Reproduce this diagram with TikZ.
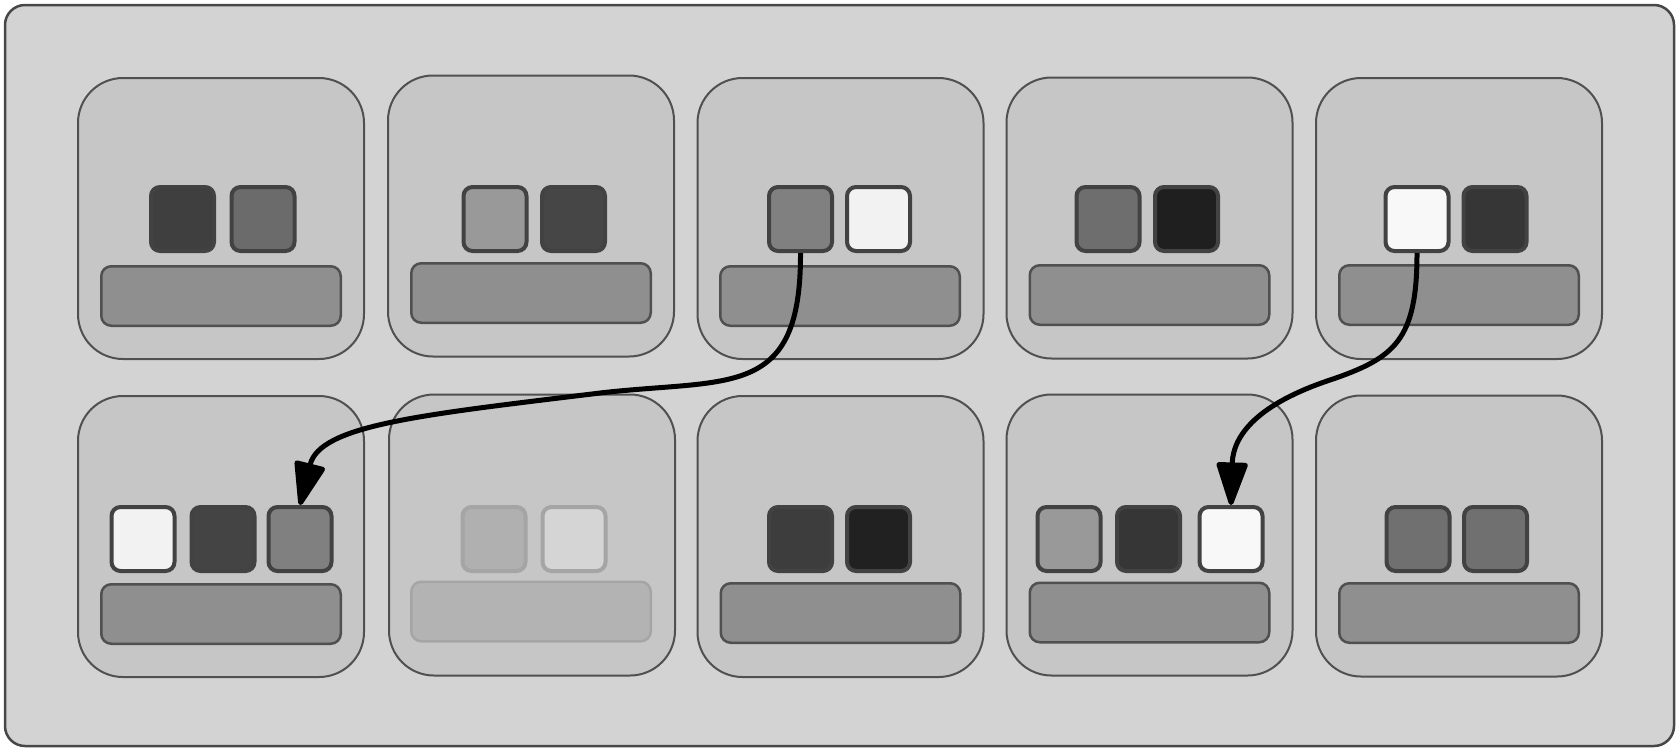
\documentclass[tikz,border=0pt]{standalone}
\usetikzlibrary{arrows.meta}
\definecolor{bgc}{HTML}{D3D3D3}
\definecolor{bgline}{HTML}{474747}
\definecolor{cardfill}{HTML}{C6C6C6}
\definecolor{cardline}{HTML}{505050}
\definecolor{barfill}{HTML}{8F8F8F}
\definecolor{barline}{HTML}{505050}
\definecolor{sqline}{HTML}{424242}
\definecolor{fadeline}{HTML}{A5A5A5}
\definecolor{fadebar}{HTML}{B3B3B3}
\definecolor{k3f}{HTML}{3F3F3F}
\definecolor{k6b}{HTML}{6B6B6B}
\definecolor{k99}{HTML}{999999}
\definecolor{k46}{HTML}{464646}
\definecolor{k80}{HTML}{808080}
\definecolor{kf2}{HTML}{F2F2F2}
\definecolor{k6e}{HTML}{6E6E6E}
\definecolor{k1f}{HTML}{1F1F1F}
\definecolor{kf8}{HTML}{F8F8F8}
\definecolor{k36}{HTML}{363636}
\definecolor{k44}{HTML}{444444}
\definecolor{k3d}{HTML}{3D3D3D}
\definecolor{k21}{HTML}{212121}
\definecolor{k70}{HTML}{707070}
\definecolor{kb0}{HTML}{B0B0B0}
\definecolor{kd5}{HTML}{D5D5D5}
\begin{document}
\begin{tikzpicture}[x=1pt,y=-1pt,
  outerbox/.style={draw=bgline,line width=2.5pt,fill=bgc,rounded corners=20pt},
  card/.style={draw=cardline,line width=2pt,fill=cardfill,rounded corners=45pt,
    minimum width=286pt,minimum height=281pt,inner sep=0pt},
  bar/.style={draw=barline,line width=2.5pt,fill=barfill,rounded corners=10pt,
    minimum width=239.5pt,minimum height=59.5pt,inner sep=0pt},
  fadedbar/.style={bar,draw=fadeline,fill=fadebar},
  sq/.style={draw=sqline,line width=4pt,rounded corners=9pt,fill=#1,
    minimum width=63pt,minimum height=64pt,inner sep=0pt},
  fadedsq/.style={sq=#1,draw=fadeline},
  link/.style={line width=5pt,-{Triangle[length=48pt,width=32pt,round=false]}}]
\useasboundingbox (0,0) rectangle (1680,748);
\draw[outerbox] (5,5) rectangle (1674,746);
% row 1 cards
\node[card] (c11) at (221,218.5) {};
\node[card] (c12) at (531,216) {};
\node[card] (c13) at (840.5,218.5) {};
\node[card] (c14) at (1149.5,218) {};
\node[card] (c15) at (1459,218.5) {};
% row 2 cards
\node[card] (c21) at (221,536.5) {};
\node[card] (c22) at (532,535) {};
\node[card] (c23) at (840.5,536.5) {};
\node[card] (c24) at (1149.5,535) {};
\node[card] (c25) at (1459,536) {};
% row 1 bars
\node[bar] (b11) at (221,296) {};
\node[bar] (b12) at (531,293) {};
\node[bar] (b13) at (840,296) {};
\node[bar] (b14) at (1149.5,295) {};
\node[bar] (b15) at (1459,295) {};
% row 2 bars
\node[bar] (b21) at (221,614) {};
\node[fadedbar] (b22) at (531,611.5) {};
\node[bar] (b23) at (840.5,613) {};
\node[bar] (b24) at (1149.5,612.5) {};
\node[bar] (b25) at (1459,613) {};
% row 1 squares
\node[sq=k3f] (s11a) at (182.5,219) {};
\node[sq=k6b] (s11b) at (263,219) {};
\node[sq=k99] (s12a) at (495,219) {};
\node[sq=k46] (s12b) at (573.5,219) {};
\node[sq=k80] (s13a) at (800.5,219) {};
\node[sq=kf2] (s13b) at (878.5,219) {};
\node[sq=k6e] (s14a) at (1108,219) {};
\node[sq=k1f] (s14b) at (1186.5,219) {};
\node[sq=kf8] (s15a) at (1417,219) {};
\node[sq=k36] (s15b) at (1495,219) {};
% row 2 squares
\node[sq=kf2] (s21a) at (143,539) {};
\node[sq=k44] (s21b) at (223,539) {};
\node[sq=k80] (s21c) at (300,539) {};
\node[fadedsq=kb0] (s22a) at (494,539) {};
\node[fadedsq=kd5] (s22b) at (574,539) {};
\node[sq=k3d] (s23a) at (800.5,539) {};
\node[sq=k21] (s23b) at (878.5,539) {};
\node[sq=k99] (s24a) at (1069,539) {};
\node[sq=k36] (s24b) at (1148.5,539) {};
\node[sq=kf8] (s24c) at (1231,539) {};
\node[sq=k70] (s25a) at (1418,539) {};
\node[sq=k70] (s25b) at (1495.5,539) {};
% connectors
\coordinate (m1) at (600,393);
\coordinate (m2) at (1330,380);
\draw[link] (s13a.south) .. controls (801,400) and (730,378) .. (m1)
  .. controls (420,415) and (320,425) .. (s21c.north);
\draw[link] (s15a.south) .. controls (1417,340) and (1395,358) .. (m2)
  .. controls (1258,404) and (1233,435) .. (s24c.north);
\end{tikzpicture}
\end{document}
